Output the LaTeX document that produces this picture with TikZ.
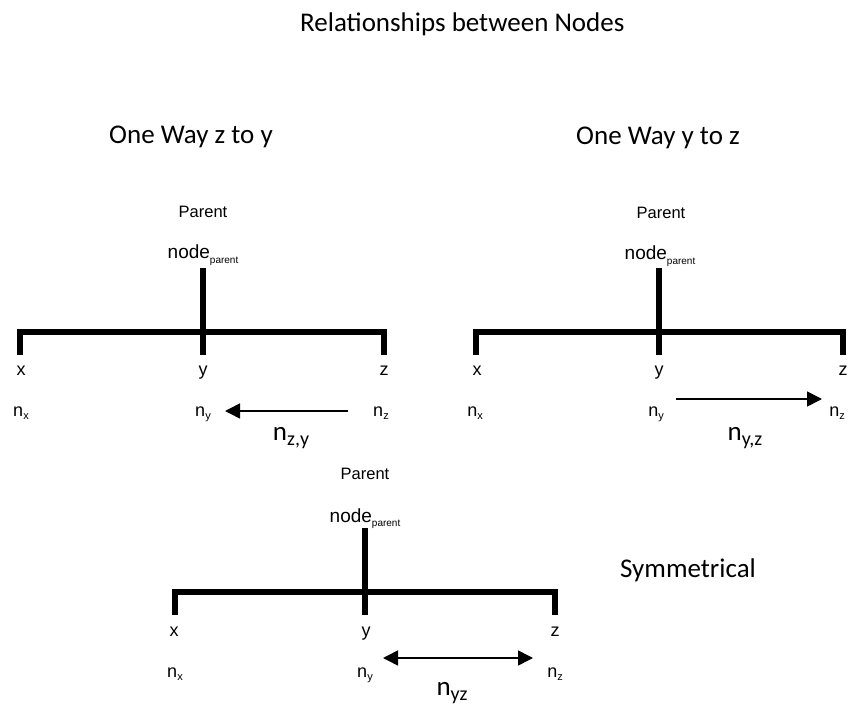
\documentclass[tikz,border=0pt]{standalone}
\usepackage{fontspec}
\setmainfont{Liberation Sans}
\newfontfamily\headfont{Carlito}
\usetikzlibrary{arrows.meta}

% slightly lowered subscript in text fonts: size, text
\newcommand{\lowsub}[2]{\raisebox{-0.22em}{\fontsize{#1}{#1}\selectfont #2}}

\tikzset{
  heading/.style={font=\headfont\fontsize{27}{27}\selectfont, inner sep=0pt, anchor=base},
  parentlbl/.style={font=\fontsize{16.5}{16.5}\selectfont, inner sep=0pt, anchor=base},
  nodelbl/.style={font=\fontsize{19}{19}\selectfont, inner sep=0pt, anchor=base},
  lbl/.style={font=\fontsize{18}{18}\selectfont, inner sep=0pt, anchor=base},
  biglbl/.style={font=\headfont\fontsize{27}{27}\selectfont, inner sep=0pt, anchor=base},
  treeline/.style={line width=5.5pt},
  tip/.tip={Triangle[length=15pt,width=15pt]},
  relarrow/.style={line width=1.6pt, -tip},
  relboth/.style={line width=1.6pt, tip-tip},
}

\begin{document}
\begin{tikzpicture}[x=1pt, y=-1pt]
\useasboundingbox (0,0) rectangle (851,708);

\node[heading, anchor=base west] (title) at (300,32) {Relationships between Nodes};

% ---------- One way z to y ----------
\node[heading, anchor=base west] (h1) at (109,144) {One Way z to y};
\node[parentlbl] (p1) at (203,218) {Parent};
\node[nodelbl] (np1) at (203,259) {node\lowsub{10}{parent}};
\coordinate (s1) at (203,268);
\coordinate (c1) at (203,332);
\coordinate (a1) at (20,355);
\coordinate (b1) at (203,355);
\coordinate (d1) at (384,355);
\draw[treeline] (s1) -- (b1);
\draw[treeline] (a1) -- (a1 |- c1) -- (d1 |- c1) -- (d1);
\node[lbl] (x1) at (21,375) {x};
\node[lbl] (y1) at (203,375) {y};
\node[lbl] (z1) at (384,375) {z};
\node[lbl] (nx1) at (21,416) {n\lowsub{11}{x}};
\node[lbl] (ny1) at (203,416) {n\lowsub{11}{y}};
\node[lbl] (nz1) at (381,416) {n\lowsub{11}{z}};
\coordinate (ts1) at (348,411);
\coordinate (te1) at (225,411);
\draw[relarrow] (ts1) -- (te1);
\node[biglbl] (r1) at (291,440) {n\lowsub{20}{z,y}};

% ---------- One way y to z ----------
\node[heading, anchor=base west] (h2) at (576,145) {One Way y to z};
\node[parentlbl] (p2) at (661,219) {Parent};
\node[nodelbl] (np2) at (660,260) {node\lowsub{10}{parent}};
\coordinate (s2) at (659,268);
\coordinate (c2) at (659,332);
\coordinate (a2) at (476,355);
\coordinate (b2) at (659,355);
\coordinate (d2) at (843,355);
\draw[treeline] (s2) -- (b2);
\draw[treeline] (a2) -- (a2 |- c2) -- (d2 |- c2) -- (d2);
\node[lbl] (x2) at (477,375) {x};
\node[lbl] (y2) at (659,375) {y};
\node[lbl] (z2) at (843,375) {z};
\node[lbl] (nx2) at (475,416) {n\lowsub{11}{x}};
\node[lbl] (ny2) at (656,416) {n\lowsub{11}{y}};
\node[lbl] (nz2) at (837,416) {n\lowsub{11}{z}};
\coordinate (ts2) at (676,399);
\coordinate (te2) at (822,399);
\draw[relarrow] (ts2) -- (te2);
\node[biglbl] (r2) at (745,440) {n\lowsub{20}{y,z}};

% ---------- Symmetrical ----------
\node[heading] (h3) at (688,577) {Symmetrical};
\node[parentlbl] (p3) at (365,479) {Parent};
\node[nodelbl] (np3) at (365,522) {node\lowsub{10}{parent}};
\coordinate (s3) at (365,528);
\coordinate (c3) at (365,592);
\coordinate (a3) at (175,615);
\coordinate (b3) at (365,615);
\coordinate (d3) at (555,615);
\draw[treeline] (s3) -- (b3);
\draw[treeline] (a3) -- (a3 |- c3) -- (d3 |- c3) -- (d3);
\node[lbl] (x3) at (174,636) {x};
\node[lbl] (y3) at (366,636) {y};
\node[lbl] (z3) at (555,636) {z};
\node[lbl] (nx3) at (175,677) {n\lowsub{11}{x}};
\node[lbl] (ny3) at (365,677) {n\lowsub{11}{y}};
\node[lbl] (nz3) at (555,677) {n\lowsub{11}{z}};
\coordinate (ts3) at (383,658);
\coordinate (te3) at (533,658);
\draw[relboth] (ts3) -- (te3);
\node[biglbl] (r3) at (452,695) {n\lowsub{20}{yz}};
\end{tikzpicture}
\end{document}
